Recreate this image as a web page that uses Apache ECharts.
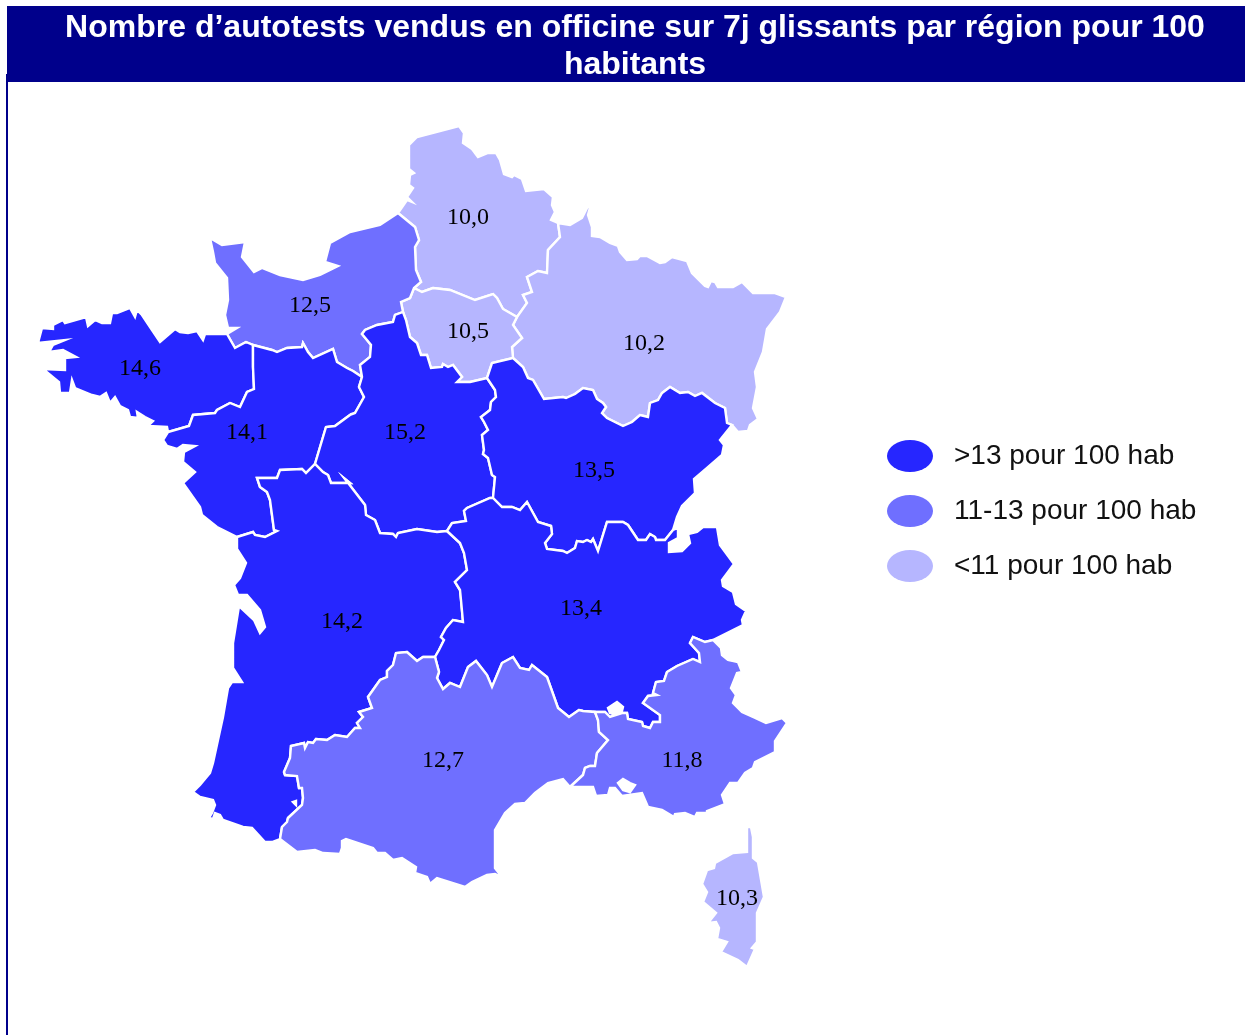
<!DOCTYPE html>
<html>
<head>
<meta charset="utf-8">
<title>Autotests par région</title>
<style>
    html, body { margin: 0; padding: 0; background: #fff; }
    #main { width: 1245px; height: 1035px; }
</style>
<script src="https://cdn.jsdelivr.net/npm/echarts@6/dist/echarts.min.js"></script>
</head>
<body>
<div id="main"></div>
<script>
// values
const regionNames = ['Hauts-de-France', 'Grand Est', 'Ile-de-France', 'Normandie', 'Bretagne', 'Pays de la Loire',
    'Centre-Val de Loire', 'Bourgogne-Franche-Comte', 'Nouvelle-Aquitaine', 'Auvergne-Rhone-Alpes', 'Occitanie', 'PACA', 'Corse'];
const regionValues = [10.0, 10.2, 10.5, 12.5, 14.6, 14.1, 15.2, 13.5, 14.2, 13.4, 12.7, 11.8, 10.3];
const legendLabels = ['<11 pour 100 hab', '11-13 pour 100 hab', '>13 pour 100 hab'];
const classBreaks = [11, 13];
const classColors = ['#b6b6ff', '#6f6fff', '#2626ff'];
const titleText = 'Nombre d’autotests vendus en officine sur 7j glissants par région pour 100\nhabitants';

// region outlines, shared borders are kept once
const coastHdf = [[398,213],[407,200],[412,202],[407,197],[413,188],[409,185],[410,175],[414,173],[409,169],[409,145],[417,137],[459,126],[464,133],[463,143],[472,149],[478,157],[488,153],[496,153],[500,160],[504,174],[512,177],[514,175],[522,179],[526,191],[544,189],[553,197],[552,205],[555,212],[551,220],[558,223]];
const hdfGe = [[558,223],[560,237],[548,250],[547,273],[538,271],[527,277],[532,292],[523,295],[527,303],[517,317]];
const hdfIdf = [[517,317],[503,309],[497,298],[493,294],[475,300],[450,290],[433,288],[422,292],[414,288]];
const hdfNor = [[398,213],[415,227],[419,240],[415,247],[416,270],[421,282],[414,288]];
const norIdf = [[414,288],[410,298],[401,302],[403,312]];
const idfCvl = [[403,312],[406,320],[410,337],[417,343],[421,355],[427,355],[431,368],[442,367],[443,364],[448,367],[453,365],[462,377],[457,382],[470,382],[487,378]];
const idfBfc = [[487,378],[492,363],[513,358]];
const idfGe = [[513,358],[512,347],[522,338],[513,325],[517,317]];
const geBfc = [[513,358],[523,367],[528,378],[533,380],[544,399],[563,397],[566,398],[575,394],[583,388],[593,390],[597,399],[603,403],[606,407],[602,413],[607,418],[623,426],[632,422],[640,415],[648,417],[650,403],[658,400],[662,393],[670,387],[680,393],[688,392],[695,396],[702,393],[715,403],[725,408],[727,423],[732,425]];
const coastGe = [[558,223],[570,225],[582,218],[587,208],[591,204],[588,215],[592,227],[592,236],[600,237],[610,243],[618,246],[620,252],[627,260],[637,259],[640,256],[647,256],[660,263],[665,262],[672,257],[687,261],[692,273],[705,286],[708,287],[711,281],[715,282],[718,287],[733,287],[742,282],[753,293],[775,293],[786,297],[780,312],[767,329],[763,352],[755,372],[757,387],[753,408],[758,419],[750,425],[748,431],[738,432],[732,425]];
const coastBfc = [[732,425],[720,440],[724,445],[722,455],[707,468],[694,479],[695,493],[682,506],[677,517],[673,530]];
const cvlBfc = [[487,378],[495,390],[496,397],[491,402],[490,410],[481,417],[484,422],[488,430],[482,435],[484,450],[483,454],[488,458],[492,475],[495,477],[493,498]];
const bfcAra = [[493,498],[502,507],[512,507],[520,510],[527,502],[538,522],[551,526],[552,534],[545,543],[547,549],[563,551],[567,553],[575,548],[577,541],[583,542],[587,540],[591,542],[593,539],[598,551],[607,522],[623,522],[628,525],[638,540],[646,540],[650,534],[655,537],[656,540],[665,540],[673,530]];
const coastAra = [[673,530],[678,528],[678,538],[669,543],[669,552],[682,551],[690,543],[688,534],[697,532],[703,527],[717,527],[720,545],[734,564],[722,580],[723,586],[733,592],[736,604],[746,611],[742,620],[743,625],[713,640]];
const araPaca = [[713,640],[705,642],[693,637],[690,643],[699,653],[700,662],[693,659],[677,666],[667,672],[664,681],[656,682],[653,693],[657,695],[648,696],[643,703],[660,715],[660,722],[653,722],[650,728],[643,726],[642,722],[628,719],[627,713],[622,713],[610,717],[605,712],[595,712]];
const araOcc = [[595,712],[583,711],[579,710],[569,717],[558,708],[547,677],[532,665],[529,670],[520,668],[513,657],[502,663],[492,687],[487,675],[476,661],[468,667],[460,687],[450,683],[443,689],[437,678],[439,672],[435,657]];
const naAra = [[447,531],[460,543],[464,553],[467,570],[455,582],[460,590],[461,600],[463,622],[453,620],[446,628],[441,637],[444,640],[439,650],[435,657]];
const cvlAra = [[447,531],[452,523],[466,521],[464,511],[467,508],[490,498],[493,498]];
const naCvl = [[315,464],[323,472],[328,475],[331,483],[350,483],[345,479],[365,505],[366,515],[375,520],[380,533],[393,534],[396,537],[398,533],[417,529],[437,532],[447,531]];
const pdlCvl = [[315,464],[326,427],[335,426],[350,415],[351,414],[355,413],[364,397],[359,387],[362,377]];
const norCvl = [[362,377],[360,365],[370,357],[371,345],[367,340],[362,334],[365,330],[377,325],[393,322],[395,315],[403,312]];
const norPdl = [[362,377],[353,371],[347,368],[337,362],[333,349],[313,358],[308,352],[303,343],[302,347],[287,348],[277,352],[272,350],[253,345]];
const norBre = [[253,345],[246,342],[235,348],[227,334]];
const coastNor = [[227,334],[237,328],[228,328],[225,315],[228,300],[227,278],[215,263],[213,252],[210,238],[222,245],[245,242],[242,257],[254,272],[262,268],[280,275],[303,280],[320,275],[338,266],[325,262],[330,243],[350,232],[380,225],[398,213]];
const coastBre = [[227,334],[207,334],[207,328],[203,340],[197,331],[188,333],[180,332],[175,329],[160,342],[152,330],[142,315],[137,310],[135,317],[130,308],[117,313],[112,313],[110,323],[102,323],[95,320],[88,326],[86,317],[65,323],[63,320],[53,325],[53,329],[42,328],[38,343],[65,340],[53,345],[49,352],[63,350],[76,357],[65,358],[65,370],[43,369],[59,382],[60,393],[70,393],[72,380],[75,388],[92,395],[100,397],[106,393],[110,403],[115,397],[120,406],[128,410],[130,417],[138,418],[137,412],[145,417],[153,421],[148,426],[167,427],[168,432]];
const brePdl = [[253,345],[253,367],[254,389],[247,392],[240,407],[230,403],[217,410],[215,413],[193,415],[189,426],[168,432]];
const coastPdl = [[168,432],[163,440],[167,446],[177,449],[183,445],[195,446],[184,452],[183,462],[195,472],[183,483],[200,507],[202,515],[217,527],[237,537]];
const pdlNa = [[237,537],[253,532],[255,535],[265,537],[277,531],[274,530],[270,500],[267,492],[260,487],[257,478],[277,478],[280,470],[302,469],[306,473],[315,464]];
const coastNa = [[237,537],[237,549],[246,563],[240,578],[234,585],[238,595],[247,595],[260,610],[265,627],[260,633],[254,620],[239,606],[233,643],[233,668],[242,682],[232,682],[228,688],[223,717],[213,763],[210,773],[200,785],[193,792],[200,797],[213,800],[215,805],[212,813],[209,818],[213,819],[215,813],[220,815],[223,820],[243,827],[252,828],[265,842],[272,842],[280,839]];
const naOcc = [[280,839],[282,827],[287,822],[288,818],[302,805],[303,798],[302,788],[299,788],[297,776],[285,775],[284,772],[290,758],[291,746],[304,743],[305,748],[308,742],[313,743],[316,739],[327,740],[335,735],[347,737],[355,728],[360,728],[357,723],[363,717],[359,712],[372,708],[368,697],[380,680],[387,677],[387,671],[393,665],[396,653],[407,652],[417,661],[423,657],[435,657]];
const coastOcc = [[280,839],[297,852],[315,850],[323,853],[340,854],[342,848],[342,841],[346,839],[373,848],[377,853],[385,853],[393,860],[402,858],[416,867],[415,873],[427,877],[430,884],[437,878],[465,887],[472,882],[487,875],[495,874],[502,877],[495,868],[495,830],[505,813],[515,804],[525,803],[535,793],[548,783],[563,779],[570,787]];
const occPaca = [[570,787],[583,775],[585,768],[590,766],[595,766],[597,753],[608,740],[599,732],[598,720],[595,712]];
const coastPaca = [[570,787],[593,787],[596,796],[608,795],[610,788],[615,788],[622,796],[642,793],[648,807],[662,810],[674,817],[675,814],[685,813],[695,817],[697,813],[707,813],[707,811],[725,804],[722,795],[730,783],[738,783],[745,773],[753,768],[755,762],[775,752],[775,741],[787,723],[782,718],[766,723],[753,717],[742,712],[733,703],[736,695],[731,688],[737,673],[742,672],[738,662],[728,660],[722,655],[721,648],[713,640]];
const corse = [[747,827],[751,827],[753,837],[753,858],[758,862],[764,897],[757,913],[757,942],[752,948],[755,949],[747,967],[738,960],[721,952],[727,942],[717,939],[719,928],[716,922],[708,923],[716,913],[703,902],[707,892],[702,884],[707,870],[714,868],[715,863],[733,853],[747,852]];
const ileBre = [[122,440],[127,441],[126,443],[122,441]];
const holeBerre = [[618,783],[623,779],[630,783],[635,785],[630,792],[623,790]];
const holeVaucluse = [[608,708],[617,702],[623,707],[622,711],[615,715],[610,713]];
const holeLandes = [[293,802],[296,801],[296,805]];

const rev = function (a) { return a.slice().reverse(); };
function ring() {
    let out = [];
    for (let i = 0; i < arguments.length; i++) {
        out = out.concat(out.length ? arguments[i].slice(1) : arguments[i]);
    }
    return out;
}
function area(r) {
    let s = 0;
    for (let i = 0; i < r.length; i++) {
        const p = r[i], q = r[(i + 1) % r.length];
        s += p[0] * q[1] - q[0] * p[1];
    }
    return s;
}
// exterior one way, holes the other, so that the fill leaves them empty
function orient(r, sign) { return area(r) * sign > 0 ? r : rev(r); }

const regionRings = {
    'Hauts-de-France': [[coastHdf.concat(hdfGe.slice(1), hdfIdf.slice(1), rev(hdfNor).slice(1))]],
    'Grand Est': [[ring(coastGe, rev(geBfc), idfGe, rev(hdfGe))]],
    'Ile-de-France': [[ring(rev(hdfIdf), rev(idfGe), rev(idfBfc), rev(idfCvl), rev(norIdf))]],
    'Normandie': [[ring(coastNor, hdfNor, norIdf, rev(norCvl), norPdl, norBre)]],
    'Bretagne': [[ring(coastBre, rev(brePdl), norBre)], [ileBre]],
    'Pays de la Loire': [[ring(brePdl, coastPdl, pdlNa, pdlCvl, norPdl)]],
    'Centre-Val de Loire': [[ring(norCvl, idfCvl, cvlBfc, rev(cvlAra), rev(naCvl), pdlCvl)]],
    'Bourgogne-Franche-Comte': [[ring(idfBfc, geBfc, coastBfc, rev(bfcAra), rev(cvlBfc))]],
    'Nouvelle-Aquitaine': [[ring(coastNa, naOcc, rev(naAra), rev(naCvl), rev(pdlNa)), holeLandes]],
    'Auvergne-Rhone-Alpes': [[ring(bfcAra, coastAra, araPaca, araOcc, rev(naAra), cvlAra), holeVaucluse]],
    'Occitanie': [[ring(coastOcc, occPaca, araOcc, rev(naOcc))]],
    'PACA': [[ring(coastPaca, araPaca, rev(occPaca)), holeBerre]],
    'Corse': [[corse]]
};
// where each number sits on its region
const labelPoints = {
    'Hauts-de-France': [468,218], 'Grand Est': [644,344], 'Ile-de-France': [468,332], 'Normandie': [310,306],
    'Bretagne': [140,369], 'Pays de la Loire': [247,433], 'Centre-Val de Loire': [405,433],
    'Bourgogne-Franche-Comte': [594,471], 'Nouvelle-Aquitaine': [342,622], 'Auvergne-Rhone-Alpes': [581,609],
    'Occitanie': [443,761], 'PACA': [682,761], 'Corse': [737,899]
};

const features = regionNames.map(function (name) {
    return {
        type: 'Feature',
        properties: {name: name, cp: labelPoints[name]},
        geometry: {
            type: 'MultiPolygon',
            coordinates: regionRings[name].map(function (poly) {
                return poly.map(function (r, i) { return orient(r, i === 0 ? 1 : -1); });
            })
        }
    };
});
echarts.registerMap('regions', {type: 'FeatureCollection', features: features});

// the map is drawn 1:1 in picture pixels
let xs = [], ys = [];
features.forEach(function (f) {
    f.geometry.coordinates.forEach(function (poly) {
        poly[0].forEach(function (p) { xs.push(p[0]); ys.push(p[1]); });
    });
});
const minX = Math.min.apply(null, xs), maxX = Math.max.apply(null, xs);
const minY = Math.min.apply(null, ys), maxY = Math.max.apply(null, ys);

const myChart = echarts.init(document.getElementById('main'));

let option = {
    animation: false,
    backgroundColor: '#ffffff',
    title: {
        text: titleText,
        left: 635,
        top: 10,
        padding: 0,
        textAlign: 'center',
        textStyle: {
            color: '#ffffff',
            fontFamily: 'Liberation Sans',
            fontWeight: 'bold',
            fontSize: 32,
            lineHeight: 37
        }
    },
    graphic: [
        {type: 'rect', z: -1, shape: {x: 7, y: 6, width: 1238, height: 76}, style: {fill: '#00008b'}},
        {type: 'rect', z: -1, shape: {x: 6, y: 74, width: 2, height: 961}, style: {fill: '#00008b'}}
    ],
    visualMap: {
        type: 'piecewise',
        left: 872,
        top: 425,
        orient: 'vertical',
        align: 'left',
        itemWidth: 46,
        itemHeight: 32,
        itemGap: 23,
        itemSymbol: 'path://M0 50A50 50 0 1 1 100 50A50 50 0 1 1 0 50Z',
        selectedMode: false,
        hoverLink: false,
        textGap: 21,
        textStyle: {color: '#111111', fontFamily: 'Liberation Sans', fontSize: 28},
        pieces: [
            {lt: classBreaks[0], label: legendLabels[0], color: classColors[0]},
            {gte: classBreaks[0], lte: classBreaks[1], label: legendLabels[1], color: classColors[1]},
            {gt: classBreaks[1], label: legendLabels[2], color: classColors[2]}
        ]
    },
    series: [
        {
            type: 'map',
            map: 'regions',
            roam: false,
            silent: true,
            projection: {
                project: function (p) { return p; },
                unproject: function (p) { return p; }
            },
            layoutCenter: [(minX + maxX) / 2, (minY + maxY) / 2],
            layoutSize: Math.max(maxX - minX, maxY - minY),
            itemStyle: {borderColor: '#ffffff', borderWidth: 2.4},
            label: {
                show: true,
                color: '#000000',
                fontFamily: 'Liberation Serif',
                fontSize: 24,
                formatter: function (p) { return p.value.toFixed(1).replace('.', ','); }
            },
            data: regionNames.map(function (name, i) {
                return {name: name, value: regionValues[i]};
            })
        }
    ]
};

myChart.setOption(option);
</script>
</body>
</html>
